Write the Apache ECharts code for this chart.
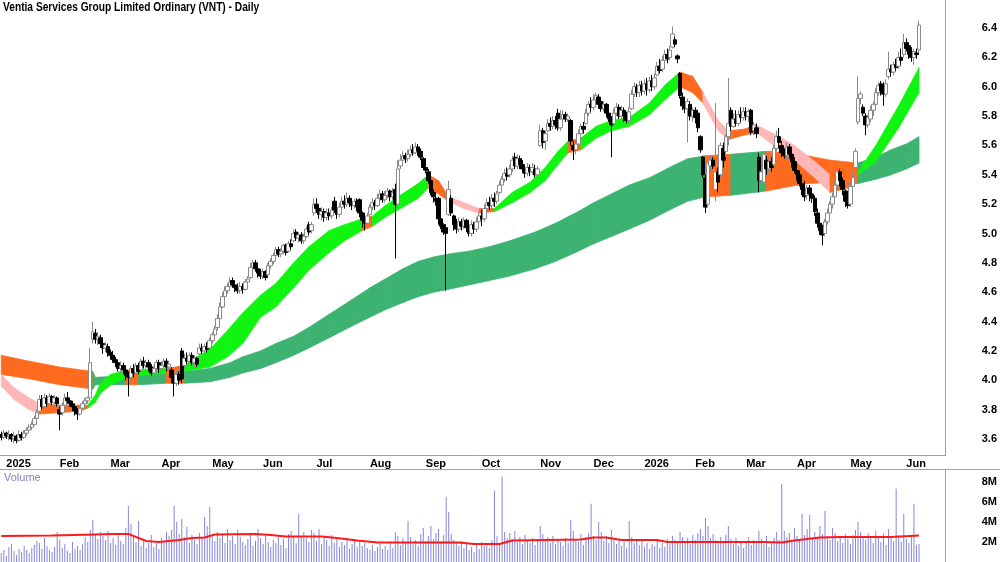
<!DOCTYPE html>
<html>
<head>
<meta charset="utf-8">
<script src="https://cdn.jsdelivr.net/npm/echarts@6/dist/echarts.min.js"></script>
<style>
html, body { margin: 0; padding: 0; background: #fff; }
#main { width: 1000px; height: 562px; }
</style>
</head>
<body>
<div id="main"></div>
<script>
// trading-day slots on the x axis (last ones stay empty, like the reference)
var slotCount = 372;
var monthTicks = [2, 23, 43, 63, 83, 103, 124, 145, 167, 189, 212, 233, 253, 273, 293, 313, 334, 356];
var monthNames = ['2025', 'Feb', 'Mar', 'Apr', 'May', 'Jun', 'Jul', 'Aug', 'Sep', 'Oct', 'Nov', 'Dec', '2026', 'Feb', 'Mar', 'Apr', 'May', 'Jun'];
var priceTicks = [3.6, 3.8, 4.0, 4.2, 4.4, 4.6, 4.8, 5.0, 5.2, 5.4, 5.6, 5.8, 6.0, 6.2, 6.4];
var volTicks = [2, 4, 6, 8];

// daily bars: [open, close, low, high]
var candles = [
  [3.63,3.61,3.59,3.65],[3.61,3.64,3.60,3.66],[3.64,3.62,3.60,3.65],[3.62,3.63,3.59,3.66],[3.63,3.60,3.58,3.64],
  [3.60,3.62,3.57,3.65],[3.62,3.59,3.57,3.63],[3.59,3.63,3.58,3.66],[3.63,3.61,3.59,3.65],[3.61,3.64,3.60,3.66],
  [3.64,3.66,3.62,3.68],[3.66,3.68,3.64,3.70],[3.68,3.70,3.66,3.72],[3.70,3.74,3.69,3.76],[3.74,3.78,3.72,3.80],
  [3.79,3.87,3.78,3.90],[3.87,3.82,3.80,3.90],[3.82,3.88,3.81,3.91],[3.88,3.84,3.82,3.90],[3.84,3.89,3.83,3.91],
  [3.89,3.85,3.83,3.90],[3.85,3.88,3.82,3.90],[3.88,3.84,3.82,3.89],[3.80,3.77,3.66,3.82],[3.78,3.83,3.76,3.85],
  [3.83,3.88,3.82,3.91],[3.88,3.86,3.84,3.92],[3.86,3.84,3.82,3.88],[3.84,3.82,3.79,3.86],[3.82,3.79,3.76,3.84],
  [3.79,3.77,3.73,3.81],[3.77,3.81,3.76,3.83],[3.81,3.84,3.80,3.86],[3.84,3.86,3.82,3.88],[3.86,3.88,3.84,3.89],
  [3.88,4.12,3.87,4.22],[4.28,4.33,4.25,4.40],[4.32,4.28,4.25,4.35],[4.28,4.30,4.24,4.33],[4.29,4.25,4.22,4.31],
  [4.25,4.22,4.18,4.27],[4.22,4.24,4.19,4.26],[4.23,4.19,4.16,4.25],[4.19,4.17,4.14,4.21],[4.17,4.14,4.12,4.20],
  [4.14,4.12,4.09,4.16],[4.12,4.08,4.06,4.14],[4.08,4.10,4.05,4.13],[4.10,4.07,4.04,4.12],[4.07,4.03,4.00,4.09],
  [4.03,4.02,3.89,4.06],[4.02,4.08,4.00,4.10],[4.08,4.05,4.02,4.11],[4.05,4.10,4.03,4.12],[4.10,4.06,4.04,4.12],
  [4.07,4.13,4.06,4.15],[4.13,4.10,4.08,4.16],[4.10,4.12,4.08,4.14],[4.12,4.09,4.06,4.14],[4.09,4.05,4.03,4.11],
  [4.05,4.08,4.03,4.10],[4.08,4.12,4.06,4.14],[4.12,4.08,4.05,4.14],[4.08,4.10,4.06,4.13],[4.10,4.13,4.08,4.15],
  [4.13,4.09,4.06,4.15],[4.09,4.11,4.07,4.13],[4.07,4.02,3.98,4.09],[4.02,3.98,3.89,4.05],[3.98,4.04,3.96,4.07],
  [4.04,4.00,3.97,4.06],[4.20,4.01,3.98,4.22],[4.10,4.15,4.08,4.18],[4.15,4.13,4.11,4.19],[4.13,4.17,4.12,4.19],
  [4.17,4.12,4.10,4.19],[4.12,4.15,4.09,4.17],[4.15,4.11,4.09,4.16],[4.18,4.22,4.17,4.25],[4.22,4.20,4.18,4.25],
  [4.20,4.23,4.19,4.25],[4.23,4.21,4.19,4.26],[4.22,4.27,4.21,4.29],[4.27,4.31,4.25,4.33],[4.31,4.35,4.29,4.37],
  [4.36,4.42,4.34,4.45],[4.42,4.50,4.41,4.53],[4.50,4.57,4.49,4.60],[4.57,4.61,4.54,4.64],[4.61,4.64,4.59,4.66],
  [4.64,4.67,4.62,4.70],[4.68,4.65,4.63,4.70],[4.65,4.63,4.60,4.67],[4.63,4.61,4.59,4.66],[4.61,4.64,4.59,4.67],
  [4.64,4.62,4.59,4.66],[4.62,4.67,4.61,4.69],[4.67,4.69,4.64,4.71],[4.70,4.77,4.69,4.80],[4.77,4.80,4.75,4.82],
  [4.80,4.76,4.74,4.82],[4.76,4.73,4.70,4.78],[4.74,4.71,4.69,4.76],[4.71,4.74,4.69,4.76],[4.74,4.70,4.68,4.75],
  [4.72,4.78,4.71,4.80],[4.78,4.81,4.76,4.83],[4.81,4.85,4.79,4.87],[4.85,4.89,4.83,4.91],[4.89,4.86,4.84,4.91],
  [4.86,4.88,4.84,4.90],[4.88,4.92,4.86,4.93],[4.92,4.87,4.85,4.93],[4.88,4.93,4.87,4.95],[4.93,4.91,4.89,4.96],
  [4.95,5.00,4.94,5.03],[5.01,4.97,4.95,5.03],[4.97,4.99,4.94,5.01],[4.99,4.95,4.93,5.01],[4.95,4.98,4.93,5.00],
  [4.98,5.03,4.97,5.05],[5.06,5.01,4.99,5.08],[5.02,5.06,5.00,5.08],[5.14,5.20,5.12,5.24],[5.20,5.17,5.14,5.24],
  [5.17,5.13,5.10,5.19],[5.13,5.15,5.09,5.18],[5.15,5.11,5.08,5.17],[5.11,5.14,5.09,5.17],[5.14,5.12,5.09,5.17],
  [5.12,5.16,5.10,5.18],[5.22,5.16,5.14,5.25],[5.16,5.13,5.10,5.18],[5.13,5.18,5.11,5.21],[5.18,5.22,5.16,5.25],
  [5.22,5.20,5.17,5.26],[5.20,5.24,5.18,5.28],[5.24,5.21,5.18,5.26],[5.21,5.19,5.16,5.24],[5.19,5.22,5.17,5.24],
  [5.22,5.18,5.15,5.24],[5.23,5.14,5.11,5.24],[5.14,5.09,5.04,5.15],[5.09,5.07,5.02,5.12],[5.07,5.12,5.05,5.14],
  [5.13,5.18,5.12,5.20],[5.18,5.21,5.16,5.24],[5.21,5.19,5.16,5.23],[5.19,5.24,5.18,5.27],[5.24,5.27,5.22,5.30],
  [5.27,5.23,5.21,5.29],[5.23,5.26,5.21,5.29],[5.26,5.29,5.24,5.31],[5.29,5.25,5.22,5.30],[5.25,5.28,5.23,5.31],
  [5.30,5.20,4.83,5.34],[5.20,5.44,5.16,5.50],[5.46,5.50,5.44,5.54],[5.50,5.53,5.48,5.56],[5.53,5.51,5.48,5.55],
  [5.51,5.54,5.49,5.57],[5.54,5.57,5.52,5.60],[5.57,5.55,5.53,5.61],[5.55,5.59,5.54,5.62],[5.59,5.56,5.53,5.61],
  [5.56,5.52,5.50,5.58],[5.51,5.45,5.43,5.52],[5.45,5.43,5.41,5.47],[5.42,5.36,5.34,5.44],[5.36,5.28,5.26,5.37],
  [5.28,5.25,5.21,5.30],[5.24,5.22,5.19,5.28],[5.24,5.10,5.06,5.25],[5.10,5.05,5.03,5.12],[5.06,5.01,4.99,5.07],
  [5.04,5.00,4.61,5.06],[5.13,5.30,5.12,5.36],[5.24,5.14,5.12,5.26],[5.12,5.06,5.02,5.13],[5.06,5.03,5.00,5.10],
  [5.03,5.08,5.01,5.11],[5.08,5.05,5.02,5.10],[5.05,5.09,5.03,5.11],[5.09,5.04,5.01,5.10],[5.04,5.00,4.98,5.07],
  [5.00,5.06,4.98,5.09],[5.06,5.03,5.00,5.08],[5.03,5.08,5.01,5.11],[5.08,5.12,5.04,5.14],[5.12,5.10,5.05,5.16],
  [5.10,5.17,5.08,5.20],[5.17,5.21,5.13,5.24],[5.21,5.19,5.16,5.25],[5.19,5.24,5.17,5.27],[5.24,5.22,5.18,5.28],
  [5.22,5.27,5.20,5.29],[5.28,5.33,5.27,5.36],[5.33,5.37,5.31,5.39],[5.37,5.41,5.35,5.44],[5.41,5.39,5.36,5.45],
  [5.40,5.44,5.38,5.47],[5.44,5.50,5.42,5.53],[5.52,5.46,5.44,5.55],[5.46,5.51,5.44,5.54],[5.51,5.47,5.44,5.53],
  [5.47,5.44,5.41,5.50],[5.44,5.41,5.38,5.46],[5.41,5.45,5.39,5.48],[5.45,5.42,5.39,5.47],[5.42,5.45,5.40,5.48],
  [5.44,5.40,5.38,5.47],[5.40,5.44,5.38,5.46],[5.60,5.70,5.59,5.74],[5.70,5.62,5.58,5.72],[5.63,5.68,5.57,5.70],
  [5.70,5.75,5.69,5.78],[5.75,5.73,5.70,5.79],[5.73,5.77,5.71,5.80],[5.77,5.74,5.71,5.80],[5.82,5.72,5.70,5.85],
  [5.72,5.78,5.70,5.84],[5.78,5.81,5.76,5.84],[5.81,5.78,5.76,5.83],[5.78,5.80,5.76,5.82],[5.77,5.63,5.60,5.78],
  [5.60,5.57,5.50,5.63],[5.57,5.61,5.54,5.63],[5.61,5.68,5.60,5.71],[5.68,5.73,5.66,5.75],[5.73,5.71,5.68,5.76],
  [5.75,5.82,5.74,5.85],[5.82,5.88,5.80,5.90],[5.88,5.86,5.83,5.93],[5.86,5.91,5.84,5.95],[5.91,5.94,5.88,5.96],
  [5.93,5.88,5.85,5.95],[5.90,5.85,5.83,5.92],[5.85,5.88,5.83,5.90],[5.88,5.82,5.79,5.89],[5.82,5.78,5.76,5.84],
  [5.78,5.74,5.52,5.80],[5.75,5.82,5.74,5.85],[5.82,5.86,5.80,5.89],[5.86,5.80,5.78,5.88],[5.80,5.84,5.77,5.87],
  [5.84,5.80,5.76,5.86],[5.80,5.77,5.75,5.83],[5.77,5.83,5.75,5.86],[5.85,5.95,5.84,5.98],[5.95,6.00,5.93,6.03],
  [6.00,5.96,5.93,6.02],[5.96,6.01,5.93,6.04],[6.01,5.97,5.94,6.04],[5.97,6.02,5.95,6.05],[6.02,5.98,5.94,6.06],
  [5.98,6.04,5.96,6.07],[6.04,6.00,5.97,6.08],[6.00,6.06,5.98,6.09],[6.08,6.14,6.07,6.17],[6.14,6.11,6.09,6.19],
  [6.12,6.18,6.10,6.21],[6.18,6.22,6.15,6.25],[6.22,6.19,6.16,6.26],[6.20,6.25,6.18,6.28],[6.27,6.36,6.26,6.41],
  [6.32,6.29,6.27,6.34],[6.21,6.19,6.16,6.22],[6.09,5.94,5.92,6.10],[5.93,5.87,5.84,5.96],[5.87,5.85,5.82,5.90],
  [5.85,5.90,5.62,5.92],[5.88,5.80,5.77,5.90],[5.80,5.84,5.76,5.86],[5.84,5.79,5.75,5.86],[5.82,5.72,5.69,5.83],
  [5.66,5.57,5.55,5.67],[5.52,5.40,5.38,5.53],[5.38,5.18,5.14,5.40],[5.20,5.48,5.18,5.51],[5.46,5.50,5.42,5.53],
  [5.50,5.46,5.44,5.52],[5.30,5.42,5.22,5.89],[5.42,5.35,5.28,5.45],[5.40,5.60,5.38,5.62],[5.58,5.50,5.45,5.62],
  [5.56,5.66,5.52,5.68],[5.66,5.75,5.60,6.06],[5.84,5.73,5.70,5.86],[5.73,5.78,5.72,5.82],[5.78,5.75,5.73,5.84],
  [5.75,5.81,5.73,5.84],[5.81,5.79,5.76,5.86],[5.79,5.83,5.77,5.86],[5.83,5.80,5.77,5.86],[5.80,5.83,5.76,5.85],
  [5.84,5.69,5.67,5.85],[5.70,5.74,5.67,5.76],[5.72,5.68,5.65,5.75],[5.52,5.36,5.28,5.55],[5.36,5.42,5.32,5.46],
  [5.35,5.54,5.34,5.56],[5.50,5.44,5.40,5.53],[5.44,5.49,5.41,5.52],[5.49,5.45,5.42,5.52],[5.47,5.58,5.46,5.60],
  [5.58,5.66,5.56,5.70],[5.66,5.62,5.58,5.72],[5.60,5.55,5.52,5.63],[5.55,5.53,5.51,5.58],[5.53,5.59,5.50,5.62],
  [5.59,5.54,5.51,5.61],[5.54,5.49,5.45,5.56],[5.49,5.43,5.41,5.52],[5.43,5.40,5.36,5.45],[5.40,5.34,5.32,5.43],
  [5.34,5.30,5.26,5.38],[5.30,5.25,5.22,5.36],[5.26,5.31,5.23,5.33],[5.31,5.27,5.22,5.33],[5.27,5.24,5.21,5.30],
  [5.24,5.15,5.12,5.26],[5.14,5.07,5.04,5.17],[5.07,5.02,4.99,5.10],[5.02,4.99,4.92,5.06],[5.00,5.08,4.98,5.10],
  [5.08,5.14,5.06,5.17],[5.14,5.20,5.12,5.22],[5.20,5.25,5.17,5.28],[5.25,5.33,5.24,5.36],[5.33,5.42,5.30,5.47],
  [5.42,5.36,5.32,5.44],[5.36,5.30,5.26,5.38],[5.29,5.22,5.18,5.30],[5.23,5.19,5.17,5.28],[5.20,5.32,5.18,5.35],
  [5.32,5.38,5.28,5.42],[5.45,5.56,5.44,5.58],[5.76,5.92,5.74,6.07],[5.92,5.95,5.88,5.97],[5.86,5.82,5.80,5.88],
  [5.80,5.74,5.67,5.82],[5.74,5.79,5.72,5.81],[5.78,5.84,5.76,5.87],[5.84,5.88,5.80,5.90],[5.88,5.96,5.86,5.99],
  [5.96,6.01,5.94,6.03],[6.02,5.97,5.94,6.04],[5.99,5.95,5.87,6.03],[5.95,6.02,5.93,6.05],[6.07,6.12,6.05,6.24],
  [6.12,6.10,6.07,6.15],[6.10,6.15,6.08,6.17],[6.15,6.13,6.11,6.19],[6.14,6.20,6.12,6.24],[6.20,6.18,6.15,6.26],
  [6.22,6.30,6.20,6.36],[6.30,6.26,6.24,6.33],[6.28,6.22,6.19,6.30],[6.24,6.20,6.17,6.27],[6.20,6.24,6.15,6.26],
  [6.23,6.22,6.19,6.26],[6.25,6.42,6.23,6.45]
];

// daily volume, millions
var volume = [
  0.9,1.2,0.6,1.5,1.8,1.1,0.7,1.3,1.0,1.6, 1.2,0.9,1.4,1.7,2.1,1.9,1.3,2.4,1.6,1.2,
  1.0,1.5,3.0,2.2,1.4,1.8,1.1,0.9,2.0,1.3, 1.6,1.2,1.8,2.5,2.0,3.2,4.2,2.8,2.3,3.0,
  2.6,2.2,3.1,1.9,2.4,1.7,2.9,2.1,1.8,3.4, 5.6,3.8,2.5,2.0,4.1,1.6,2.3,1.4,1.9,2.7,
  1.5,2.1,1.3,2.4,2.0,3.0,2.6,3.2,5.6,4.0, 2.8,4.3,2.5,3.5,1.9,2.7,2.2,1.8,2.9,2.4,
  4.5,3.6,5.5,2.6,2.1,3.0,2.4,2.8,1.9,3.3, 2.2,2.6,1.8,3.2,2.5,2.0,1.7,2.3,2.8,1.6,
  2.1,3.3,2.4,1.8,2.6,2.0,1.5,2.2,1.9,2.7, 1.7,2.3,1.4,2.8,3.1,2.5,1.9,4.8,2.6,3.0,
  2.4,2.0,3.2,2.9,2.1,3.3,1.8,2.5,2.2,1.6, 2.7,1.9,2.3,1.5,2.0,1.7,2.4,1.3,1.8,2.1,
  1.5,2.2,1.6,1.9,1.4,1.2,1.7,1.1,1.5,1.8, 1.3,1.6,1.2,1.9,1.4,3.0,2.6,1.7,2.4,2.0,
  4.1,2.5,1.8,2.2,1.6,2.8,3.4,2.1,2.6,3.6, 2.3,2.9,3.3,2.1,2.7,6.5,5.0,2.8,2.2,1.9,
  1.6,2.1,1.4,1.8,1.2,1.5,1.0,1.7,1.3,2.0, 1.6,1.9,1.4,2.2,7.1,2.6,1.8,8.5,3.0,2.4,
  2.9,2.3,3.1,2.0,2.5,1.8,2.7,2.2,1.9,2.4, 1.7,2.3,3.6,2.8,2.1,2.5,1.9,2.6,1.8,2.2,
  2.0,1.6,2.4,1.9,4.2,3.1,2.3,2.0,2.8,1.7, 2.5,2.9,5.8,2.6,2.2,4.0,3.0,2.1,2.6,1.9,
  3.2,2.4,1.8,2.2,1.6,2.0,1.4,4.1,2.5,1.9, 2.3,1.7,2.1,1.5,1.9,1.3,1.8,1.6,2.2,1.4,
  1.9,1.5,2.3,1.8,2.6,2.2,1.9,3.0,2.5,2.1, 2.4,1.8,2.7,2.2,2.9,3.3,2.6,4.4,3.6,2.4,
  2.8,2.2,1.9,2.5,2.0,2.7,3.6,2.3,1.8,2.4, 1.6,2.1,1.4,1.9,2.5,1.7,2.2,2.0,3.1,2.3,
  1.8,2.6,1.5,2.0,2.4,3.0,2.2,7.8,3.1,2.5, 2.9,2.1,3.4,2.6,2.2,4.8,2.7,3.3,4.7,2.5,
  3.0,2.4,3.6,2.8,5.1,2.6,2.2,3.4,2.9,2.1, 2.5,1.9,2.8,2.3,1.8,2.7,3.2,4.0,3.0,2.6,
  2.2,2.9,2.4,1.9,3.1,2.6,2.0,2.8,1.7,3.3, 2.4,2.1,7.3,2.7,2.0,4.8,2.3,1.9,2.6,5.8,
  1.7,1.8
];

// volume average line read at [day, millions]
var volAvg = [
  [0,2.6],[20,2.65],[45,2.8],[50,2.8],[54,2.4],[57,2.1],[62,2.0],[70,2.2],[75,2.4],[80,2.45],
  [84,2.75],[100,2.8],[106,2.7],[112,2.55],[126,2.55],[132,2.4],[140,2.15],[148,1.95],[180,1.95],
  [186,1.8],[196,1.8],[201,2.15],[228,2.25],[233,2.45],[238,2.45],[244,2.2],[258,2.2],[262,2.0],
  [300,2.0],[307,1.95],[312,2.15],[322,2.45],[330,2.5],[350,2.5],[361,2.65]
];

// short-term band: [day, top, bottom, colour of the stretch that follows]
var shortBand = [
  [-0.5,4.04,3.96,'p'],[5,3.95,3.87,'p'],[11,3.88,3.80,'p'],[15,3.84,3.77,'o'],[23,3.83,3.78,'o'],
  [31,3.83,3.79,'o'],[34,3.83,3.81,'g'],[37,3.90,3.85,'g'],[39,3.98,3.91,'g'],[43,4.04,3.97,'g'],
  [47,4.06,4.00,'g'],[49,4.07,4.02,'o'],[54,4.07,4.03,'g'],[59,4.08,4.04,'g'],[65,4.08,4.05,'o'],
  [72,4.10,4.06,'g'],[75,4.14,4.07,'g'],[82,4.21,4.09,'g'],[89,4.34,4.16,'g'],[95,4.46,4.25,'g'],
  [102,4.58,4.43,'g'],[108,4.66,4.50,'g'],[115,4.80,4.63,'g'],[121,4.91,4.75,'g'],[129,5.02,4.87,'g'],
  [135,5.06,4.95,'g'],[142,5.10,5.02,'o'],[146,5.12,5.05,'g'],[151,5.19,5.11,'g'],[156,5.25,5.16,'g'],
  [164,5.34,5.24,'g'],[168,5.40,5.31,'o'],[172,5.36,5.27,'o'],[176,5.25,5.22,'p'],[182,5.21,5.17,'p'],
  [188,5.17,5.14,'o'],[194,5.17,5.15,'g'],[201,5.28,5.21,'g'],[208,5.35,5.28,'g'],[214,5.45,5.36,'g'],
  [219,5.56,5.47,'g'],[223,5.63,5.55,'o'],[228,5.65,5.57,'g'],[234,5.73,5.65,'g'],[240,5.77,5.70,'g'],
  [247,5.79,5.73,'g'],[255,5.89,5.81,'g'],[261,6.01,5.91,'g'],[267,6.10,6.00,'o'],[272,6.07,5.96,'o'],
  [276,5.96,5.89,'p'],[282,5.77,5.70,'p'],[286,5.70,5.64,'o'],[292,5.71,5.67,'o'],[297,5.74,5.69,'p'],
  [306,5.66,5.57,'p'],[312,5.60,5.50,'p'],[320,5.49,5.38,'p'],[326,5.40,5.28,'o'],[333,5.38,5.31,'o'],
  [337,5.42,5.40,'g'],[344,5.60,5.49,'g'],[353,5.87,5.72,'g'],[361,6.13,5.96,'g']
];

// long-term band: [day, top, bottom, colour of the stretch that follows]
var longBand = [
  [-0.5,4.17,4.04,'o'],[11,4.13,4.01,'o'],[23,4.09,3.97,'o'],[36,4.06,3.94,'d'],[37,4.02,3.97,'d'],
  [49,4.03,3.97,'o'],[54,4.04,3.97,'d'],[65,4.05,3.98,'o'],[72,4.06,3.98,'d'],[82,4.08,3.99,'d'],
  [90,4.12,4.02,'d'],[95,4.16,4.05,'d'],[102,4.20,4.08,'d'],[108,4.25,4.12,'d'],[115,4.30,4.17,'d'],
  [121,4.36,4.22,'d'],[129,4.45,4.29,'d'],[138,4.55,4.37,'d'],[145,4.63,4.43,'d'],[151,4.69,4.48,'d'],
  [158,4.76,4.53,'d'],[164,4.81,4.57,'d'],[170,4.84,4.60,'d'],[176,4.86,4.62,'d'],[184,4.88,4.65,'d'],
  [192,4.91,4.68,'d'],[200,4.95,4.71,'d'],[210,5.01,4.76,'d'],[218,5.07,4.81,'d'],[227,5.15,4.88,'d'],
  [233,5.21,4.93,'d'],[240,5.27,4.98,'d'],[247,5.33,5.03,'d'],[255,5.38,5.09,'d'],[264,5.46,5.17,'d'],
  [270,5.51,5.22,'d'],[277,5.53,5.25,'o'],[287,5.54,5.26,'d'],[301,5.56,5.29,'o'],[310,5.55,5.32,'o'],
  [317,5.53,5.34,'o'],[326,5.50,5.35,'o'],[337,5.48,5.34,'d'],[344,5.52,5.37,'d'],[350,5.57,5.40,'d'],
  [356,5.61,5.44,'d'],[361,5.66,5.48,'d']
];

var bandColors = { g: '#10f510', o: '#ff6a1f', p: '#ffb6b6', d: '#3cb371' };

var cats = [];
for (var i = 0; i < slotCount; i++) cats.push(String(i));

function isMonthStart(idx) { return monthTicks.indexOf(idx) >= 0; }

// one polygon per stretch between two readings of the band
function bandRenderer(rows) {
  return function (params, api) {
    var a = rows[params.dataIndex], b = rows[params.dataIndex + 1];
    var pts = [
      api.coord([a[0], a[1]]), api.coord([b[0], b[1]]),
      api.coord([b[0], b[2]]), api.coord([a[0], a[2]])
    ];
    var c = bandColors[a[3]];
    return { type: 'polygon', shape: { points: pts }, style: { fill: c, stroke: c, lineWidth: 0.8 } };
  };
}
function bandData(rows) {
  return rows.slice(0, -1).map(function (r) { return [r[0], r[1], r[2]]; });
}

var myChart = echarts.init(document.getElementById('main'));

var option = {
  animation: false,
  backgroundColor: '#fff',
  textStyle: { fontFamily: 'Liberation Sans, Arial, sans-serif' },
  graphic: [
    // title is drawn a little condensed, like the original
    { type: 'text', x: 3, y: 2, scaleX: 0.85, style: { text: 'Ventia Services Group Limited Ordinary (VNT) - Daily', font: 'bold 12px "Liberation Sans", Arial', fill: '#000' } },
    { type: 'text', left: 4, top: 472, style: { text: 'Volume', font: '11px "Liberation Sans", Arial', fill: '#8080c8' } },
    { type: 'line', shape: { x1: 0, y1: 469.5, x2: 1000, y2: 469.5 }, style: { stroke: '#a0a0a0', lineWidth: 1 } }
  ],
  grid: [
    { left: 0, right: 51, top: 0, bottom: 107 },
    { left: 0, right: 51, top: 470, bottom: -3 }
  ],
  xAxis: [
    {
      type: 'category', gridIndex: 0, data: cats, boundaryGap: true,
      axisLine: { lineStyle: { color: '#a0a0a0' } },
      axisTick: { alignWithLabel: true, interval: isMonthStart, length: 4, lineStyle: { color: '#808080' } },
      axisLabel: {
        interval: isMonthStart, align: 'left', margin: 3,
        color: '#000', fontWeight: 'bold', fontSize: 11,
        formatter: function (v, idx) { var k = monthTicks.indexOf(idx); return k >= 0 ? monthNames[k] : ''; }
      },
      splitLine: { show: false }
    },
    {
      type: 'category', gridIndex: 1, data: cats, boundaryGap: true,
      axisLine: { show: false }, axisTick: { show: false }, axisLabel: { show: false }
    }
  ],
  yAxis: [
    {
      type: 'value', gridIndex: 0, position: 'right', min: 3.491, max: 6.591, scale: true,
      axisLine: { show: true, lineStyle: { color: '#a0a0a0' } },
      axisTick: { show: false },
      splitLine: { show: false },
      axisLabel: {
        customValues: priceTicks, margin: 36, color: '#000', fontWeight: 'bold', fontSize: 11,
        formatter: function (v) { return v.toFixed(1); }
      }
    },
    {
      type: 'value', gridIndex: 1, position: 'right', min: 0, max: 9.18,
      axisLine: { show: true, lineStyle: { color: '#a0a0a0' } },
      axisTick: { show: false },
      splitLine: { show: false },
      axisLabel: {
        customValues: volTicks, margin: 36, color: '#000', fontWeight: 'bold', fontSize: 11,
        formatter: function (v) { return v + 'M'; }
      }
    }
  ],
  series: [
    {
      name: 'long band', type: 'custom', xAxisIndex: 0, yAxisIndex: 0, z: 1, clip: true,
      renderItem: bandRenderer(longBand), data: bandData(longBand), encode: { x: 0, y: [1, 2] }
    },
    {
      name: 'short band', type: 'custom', xAxisIndex: 0, yAxisIndex: 0, z: 2, clip: true,
      renderItem: bandRenderer(shortBand), data: bandData(shortBand), encode: { x: 0, y: [1, 2] }
    },
    {
      name: 'VNT', type: 'candlestick', xAxisIndex: 0, yAxisIndex: 0, z: 3,
      data: candles, barWidth: 4,
      itemStyle: { color: '#ffffff', color0: '#000000', borderColor: '#8a8a8a', borderColor0: '#000000', borderWidth: 1 }
    },
    {
      name: 'Volume', type: 'bar', xAxisIndex: 1, yAxisIndex: 1,
      data: volume, barWidth: 1, itemStyle: { color: '#8686dc' }
    },
    {
      name: 'Volume MA', type: 'line', xAxisIndex: 1, yAxisIndex: 1, z: 4,
      data: volAvg, symbol: 'none', lineStyle: { color: '#ff1a1a', width: 2 }
    }
  ]
};

myChart.setOption(option);
window.onresize = myChart.resize;
</script>
</body>
</html>
